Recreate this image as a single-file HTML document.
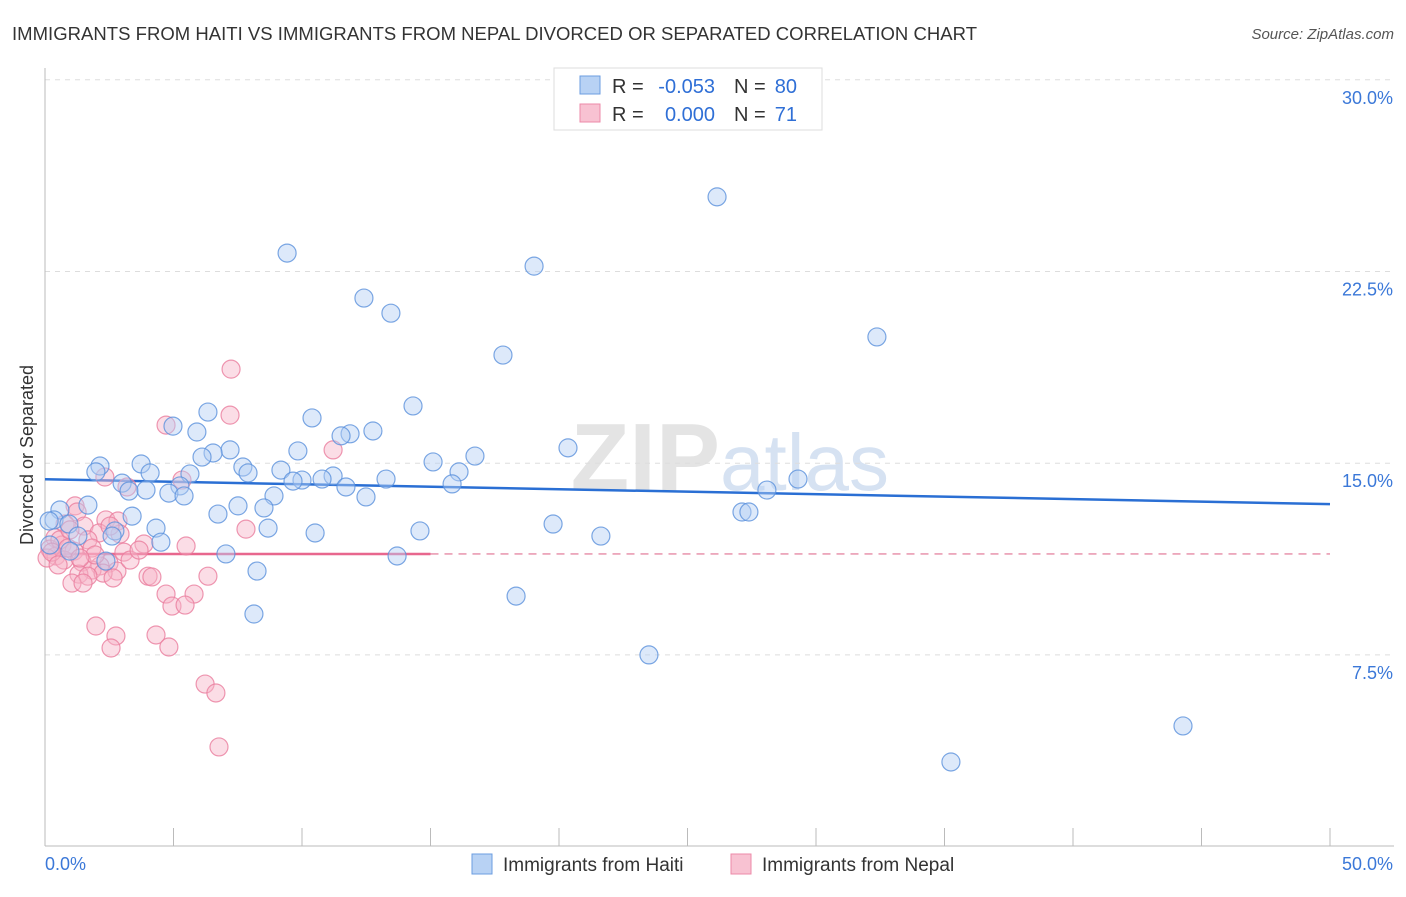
<!DOCTYPE html>
<html><head><meta charset="utf-8"><style>
body{margin:0;background:#fff;font-family:"Liberation Sans",sans-serif;}
svg text{font-family:"Liberation Sans",sans-serif;}
</style></head><body>
<svg id="chart" width="1406" height="892" xmlns="http://www.w3.org/2000/svg">
<text x="12" y="40" font-size="18.5" fill="#333" textLength="965" lengthAdjust="spacing">IMMIGRANTS FROM HAITI VS IMMIGRANTS FROM NEPAL DIVORCED OR SEPARATED CORRELATION CHART</text>
<text x="1394" y="39" font-size="15" fill="#555" text-anchor="end" font-style="italic">Source: ZipAtlas.com</text>
<text x="720" y="490" font-size="96" fill="#e4e4e4" text-anchor="end" font-family="Liberation Serif" font-weight="bold">ZIP</text>
<text x="720" y="490" font-size="80" fill="#d6e2f2">atlas</text>
<g id="grid"></g><g id="axes"></g><g id="trend"></g><g id="pts"></g>
<text transform="translate(33,455) rotate(-90)" font-size="18" fill="#333" text-anchor="middle">Divorced or Separated</text>
<g>
<rect x="554" y="68" width="268" height="62" fill="#fff" stroke="#ddd"/>
<rect x="580" y="76" width="20" height="18" fill="#b8d2f4" stroke="#6b9de0"/>
<rect x="580" y="104" width="20" height="18" fill="#f8c2d2" stroke="#ec8aa8"/>
<text x="612" y="93" font-size="20" fill="#333">R =</text>
<text x="715" y="93" font-size="20" fill="#2f6fd6" text-anchor="end">-0.053</text>
<text x="734" y="93" font-size="20" fill="#333">N =</text>
<text x="797" y="93" font-size="20" fill="#2f6fd6" text-anchor="end">80</text>
<text x="612" y="121" font-size="20" fill="#333">R =</text>
<text x="715" y="121" font-size="20" fill="#2f6fd6" text-anchor="end">0.000</text>
<text x="734" y="121" font-size="20" fill="#333">N =</text>
<text x="797" y="121" font-size="20" fill="#2f6fd6" text-anchor="end">71</text>
</g>
<g>
<rect x="472" y="854" width="20" height="20" fill="#b8d2f4" stroke="#6b9de0"/>
<text x="503" y="871" font-size="19" fill="#333">Immigrants from Haiti</text>
<rect x="731" y="854" width="20" height="20" fill="#f8c2d2" stroke="#ec8aa8"/>
<text x="762" y="871" font-size="19" fill="#333">Immigrants from Nepal</text>
</g>
</svg>
<script>
const yTicks=[7.5,15,22.5,30];
const yTickLabels=["7.5%","15.0%","22.5%","30.0%"];
const xTickLabels=["0.0%","50.0%"];
const haitiX=[26.15,9.42,19.03,12.41,13.46,32.37,17.82,14.32,6.34,10.39,4.98,5.91,12.76,11.87,11.52,20.35,7.20,6.54,6.11,9.84,16.73,15.10,3.74,2.14,7.70,1.98,4.09,5.64,7.90,9.18,16.11,11.21,10.00,10.78,13.27,9.65,29.30,3.00,15.84,5.25,11.71,3.27,3.93,28.09,4.82,5.41,8.91,12.49,1.67,7.51,8.52,0.58,3.39,6.73,27.12,27.39,19.77,0.35,0.93,4.32,8.68,14.59,10.51,21.63,2.72,2.61,1.28,4.51,0.97,7.04,13.70,2.37,8.25,18.33,8.13,23.50,44.28,35.25,0.16,0.19];
const haitiY=[25.42,23.22,22.71,21.46,20.87,19.94,19.23,17.24,17.00,16.77,16.45,16.22,16.26,16.15,16.07,15.60,15.52,15.40,15.24,15.48,15.28,15.05,14.97,14.89,14.85,14.66,14.62,14.58,14.62,14.73,14.66,14.50,14.34,14.38,14.38,14.30,14.38,14.22,14.19,14.11,14.07,13.91,13.95,13.95,13.83,13.72,13.72,13.68,13.36,13.33,13.25,13.17,12.93,13.01,13.09,13.09,12.62,12.78,12.62,12.46,12.46,12.35,12.27,12.15,12.35,12.15,12.15,11.91,11.56,11.45,11.37,11.17,10.78,9.80,9.10,7.50,4.72,3.31,12.74,11.80];
const nepalX=[7.24,4.71,7.20,11.21,5.33,2.33,3.19,1.17,1.25,2.37,2.84,0.78,1.52,7.82,2.10,2.92,0.39,1.67,0.66,3.85,5.49,1.83,0.19,1.13,3.07,0.43,0.74,1.44,2.49,0.08,2.14,1.83,2.80,1.32,2.26,1.67,4.01,4.16,6.34,2.65,1.05,1.48,4.71,5.80,4.94,5.45,1.98,2.76,4.32,2.57,4.82,6.23,6.65,6.77,0.58,0.89,0.27,0.51,0.97,1.95,3.31,3.66,2.53,1.36];
const nepalY=[18.68,16.49,16.88,15.52,14.34,14.46,14.07,13.33,13.09,12.78,12.74,12.62,12.54,12.42,12.27,12.23,12.08,12.00,11.80,11.84,11.76,11.68,11.64,11.56,11.52,11.37,11.21,11.13,11.09,11.29,10.98,10.82,10.78,10.66,10.70,10.58,10.58,10.55,10.58,10.51,10.31,10.31,9.88,9.88,9.41,9.45,8.63,8.24,8.28,7.77,7.81,6.36,6.01,3.90,12.00,11.68,11.52,11.02,12.39,11.41,11.21,11.60,12.54,11.29];
const haitiTrend=[14.37,13.40];
const nepalTrend=[11.45,11.45];
const nepalSolidEnd=15;

const X0=45,X1=1330,Y0=846.6,Yppu=191.7/7.5;
const sx=v=>X0+(v/50)*(X1-X0);
const sy=v=>Y0-v*Yppu;
const NS="http://www.w3.org/2000/svg";
function mk(tag,attrs,parent){const e=document.createElementNS(NS,tag);for(const k in attrs)e.setAttribute(k,attrs[k]);document.getElementById(parent).appendChild(e);return e;}

yTicks.forEach((t,i)=>{
  const g=mk('line',{x1:X0,x2:1394,y1:sy(t),y2:sy(t),stroke:'#ddd','stroke-dasharray':'5,5'},'grid');
  
  
  const l=mk('text',{x:1393,y:sy(t)+24,'font-size':18,fill:'#3b78d8','text-anchor':'end'},'grid');
  l.textContent=yTickLabels[i];
  
  
});
const ax=mk('line',{x1:X0,x2:X0,y1:68,y2:846,stroke:'#bbb'},'axes');


const bx=mk('line',{x1:X0,x2:1394,y1:846,y2:846,stroke:'#bbb'},'axes');


for(let i=0;i<=10;i++){
  const t=mk('line',{x1:sx(i*5),x2:sx(i*5),y1:828,y2:846,stroke:'#bbb'},'axes');
  
  
}
[[0,'start',45],[50,'end',1393]].forEach((d,i)=>{
  const l=mk('text',{x:d[2],y:870,'font-size':18,fill:'#3b78d8','text-anchor':d[1]},'axes');
  l.textContent=xTickLabels[i];
  
  
});
function dots(xs,ys,fill,stroke,name){
  xs.forEach((x,i)=>{
    const c=mk('circle',{cx:sx(x),cy:sy(ys[i]),r:9,fill:fill,'fill-opacity':0.45,stroke:stroke,'stroke-opacity':0.8,'stroke-width':1.2},'pts');
    
    
  });
}
dots(nepalX,nepalY,'#f6b4c8','#ea7d9e','nepal-point');
dots(haitiX,haitiY,'#b4cff3','#5b91dc','haiti-point');
const lb=mk('line',{x1:sx(0),x2:sx(50),y1:sy(haitiTrend[0]),y2:sy(haitiTrend[1]),stroke:'#2a6fd4','stroke-width':2.5},'trend');


const ld=mk('line',{x1:sx(nepalSolidEnd),x2:sx(50),y1:sy(nepalTrend[0]),y2:sy(nepalTrend[1]),stroke:'#e58aa5','stroke-width':1.3,'stroke-dasharray':'8,6'},'trend');


const lp=mk('line',{x1:sx(0),x2:sx(nepalSolidEnd),y1:sy(nepalTrend[0]),y2:sy(nepalTrend[0]),stroke:'#e8678e','stroke-width':2.5},'trend');


</script>
</body></html>
